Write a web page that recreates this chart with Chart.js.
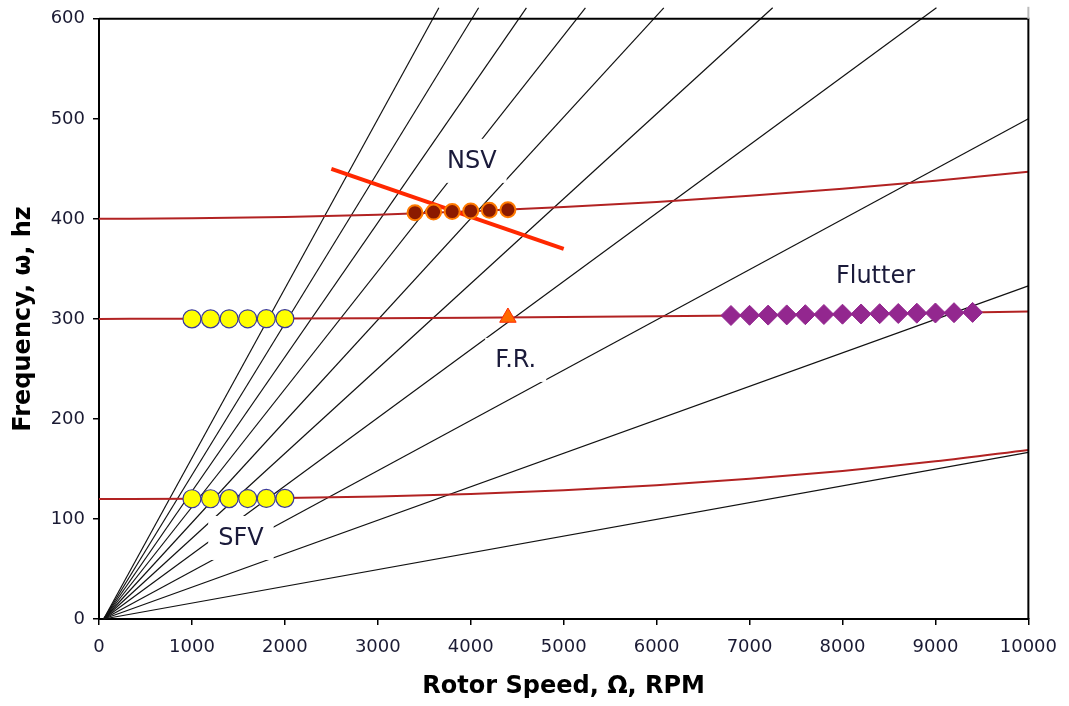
<!DOCTYPE html>
<html>
<head>
<meta charset="utf-8">
<script src="https://cdn.jsdelivr.net/npm/chart.js@4"></script>
<style>
  body { margin: 0; background: #fff; }
</style>
</head>
<body>
<canvas id="campbell" width="1069" height="706"></canvas>
<script>
// engine order lines, fanning out from near the origin
const eoOriginX = 50;
const eoEndX = [10000, 10000, 10000, 9011, 7249, 6077, 5234, 4599, 4085, 3657];
const eoEndY = [166.5, 333, 500, 611, 611, 611, 611, 611, 611, 611];

// blade mode frequencies vs rotor speed
const modeX = [0, 1000, 2000, 3000, 4000, 5000, 6000, 7000, 8000, 9000, 10000];
const mode1Y = [120, 120.2, 120.9, 122.4, 124.9, 128.7, 133.7, 140.1, 148, 157.6, 169];
const mode2Y = [300, 300.1, 300.3, 300.7, 301.2, 301.8, 302.6, 303.6, 304.7, 305.9, 307.3];
const mode3Y = [400, 400.5, 401.9, 404.2, 407.5, 411.8, 416.9, 423, 430.1, 438.1, 447];

// SFV points (two rows)
const sfvX = [1000, 1200, 1400, 1600, 1800, 2000];
const sfvHighY = [300, 300, 300.1, 300.1, 300.2, 300.3];
const sfvLowY = [120.2, 120.2, 120.3, 120.4, 120.5, 120.6];

// NSV points and the NSV trend line
const nsvX = [3400, 3600, 3800, 4000, 4200, 4400];
const nsvY = [406.2, 406.8, 407.3, 407.9, 408.5, 409.1];
const nsvLineX = [2500, 5000];
const nsvLineY = [450, 370];

// forced response point
const frX = [4400];
const frY = [301.4];

// flutter points
const flutterX = [6800, 7000, 7200, 7400, 7600, 7800, 8000, 8200, 8400, 8600, 8800, 9000, 9200, 9400];
const flutterY = [303.4, 303.6, 303.8, 304, 304.2, 304.4, 304.7, 304.9, 305.2, 305.4, 305.7, 305.9, 306.2, 306.5];

// text labels on the plot
const labelText = ['NSV', 'SFV', 'F.R.', 'Flutter'];
const labelX = [4011, 1527, 4484, 8355];
const labelY = [458, 81, 259, 343];

const pts = (xs, ys) => xs.map((x, i) => ({ x: x, y: ys[i] }));

const datasets = [
  { data: pts(nsvX, nsvY), showLine: false, pointRadius: 7.5, pointBackgroundColor: '#8b1a00',
    pointBorderColor: '#ff7a00', pointBorderWidth: 2 },
  { data: pts(frX, frY), showLine: false, pointStyle: 'triangle', pointRadius: 9.5,
    pointBackgroundColor: '#ff6a00', pointBorderColor: '#ff2a00', pointBorderWidth: 1 },
  { data: pts(flutterX, flutterY), showLine: false, pointStyle: 'rectRot', pointRadius: 10,
    pointBackgroundColor: '#93278f', pointBorderColor: '#93278f', pointBorderWidth: 1 },
  { data: pts(sfvX, sfvHighY), showLine: false, pointRadius: 9, pointBackgroundColor: '#ffff00',
    pointBorderColor: '#3a3a9a', pointBorderWidth: 1.2 },
  { data: pts(sfvX, sfvLowY), showLine: false, pointRadius: 9, pointBackgroundColor: '#ffff00',
    pointBorderColor: '#3a3a9a', pointBorderWidth: 1.2 },
  { data: pts(nsvLineX, nsvLineY), borderColor: '#ff2800', borderWidth: 4, pointRadius: 0 },
  { data: pts(modeX, mode1Y), borderColor: '#b22222', borderWidth: 2, pointRadius: 0, cubicInterpolationMode: 'monotone' },
  { data: pts(modeX, mode2Y), borderColor: '#b22222', borderWidth: 2, pointRadius: 0, cubicInterpolationMode: 'monotone' },
  { data: pts(modeX, mode3Y), borderColor: '#b22222', borderWidth: 2, pointRadius: 0, cubicInterpolationMode: 'monotone' },
];
const eoFirstIndex = datasets.length;
eoEndX.forEach((x, i) => {
  datasets.push({
    data: [{ x: eoOriginX, y: 0 }, { x: x, y: eoEndY[i] }],
    borderColor: '#111', borderWidth: 1.2, pointRadius: 0, clip: false
  });
});

// white boxed labels, drawn over the EO lines but under the red curves and markers
const labelPlugin = {
  id: 'labels',
  afterDatasetDraw(chart, args) {
    if (args.index !== eoFirstIndex) return;
    const ctx = chart.ctx;
    const xs = chart.scales.x, ys = chart.scales.y;
    ctx.save();
    ctx.font = '24px "DejaVu Sans"';
    ctx.textAlign = 'center';
    ctx.textBaseline = 'middle';
    labelText.forEach((t, i) => {
      const px = xs.getPixelForValue(labelX[i]);
      const py = ys.getPixelForValue(labelY[i]);
      const w = ctx.measureText(t).width;
      ctx.fillStyle = '#fff';
      ctx.fillRect(px - w / 2 - 10, py - 9 - 13, w + 20, 18 + 26);
      ctx.fillStyle = '#1a1a3a';
      ctx.fillText(t, px, py + 1);
    });
    ctx.restore();
  },
  afterDatasetsDraw(chart) {
    const { ctx, chartArea: a } = chart;
    ctx.save();
    ctx.strokeStyle = '#000';
    ctx.lineWidth = 2;
    ctx.beginPath();
    ctx.moveTo(a.left, a.top);
    ctx.lineTo(a.right, a.top);
    ctx.lineTo(a.right, a.bottom);
    ctx.stroke();
    ctx.strokeStyle = '#bbb';
    ctx.beginPath();
    ctx.moveTo(a.right, a.top);
    ctx.lineTo(a.right, a.top - 12);
    ctx.stroke();
    ctx.restore();
  }
};

const tickFont = { family: '"DejaVu Sans"', size: 18 };
const titleFont = { family: '"DejaVu Sans"', size: 24, weight: 'bold' };
const plainTick = (v) => String(v);

new Chart(document.getElementById('campbell'), {
  type: 'line',
  data: { datasets: datasets },
  options: {
    responsive: false,
    animation: false,
    layout: { padding: { top: 18, right: 40, left: 0, bottom: 0 } },
    plugins: { legend: { display: false }, tooltip: { enabled: false } },
    scales: {
      x: {
        type: 'linear', min: 0, max: 10000,
        ticks: { stepSize: 1000, font: tickFont, color: '#1a1a33', padding: 12, maxRotation: 0, callback: plainTick },
        grid: { drawOnChartArea: false, tickLength: 6, color: '#000', lineWidth: 1.5 },
        border: { color: '#000', width: 2 },
        title: { display: true, text: 'Rotor Speed, Ω, RPM', font: titleFont, color: '#000', padding: { bottom: 5 } },
        afterFit: (s) => { s.height = 87; }
      },
      y: {
        type: 'linear', min: 0, max: 600,
        ticks: { stepSize: 100, font: tickFont, color: '#1a1a33', padding: 8, callback: plainTick },
        grid: { drawOnChartArea: false, tickLength: 6, color: '#000', lineWidth: 1.5 },
        border: { color: '#000', width: 2 },
        title: { display: true, text: 'Frequency, ω, hz', font: titleFont, color: '#000', padding: { top: 9 } },
        afterFit: (s) => { s.width = 99; }
      }
    }
  },
  plugins: [labelPlugin]
});
</script>
</body>
</html>
